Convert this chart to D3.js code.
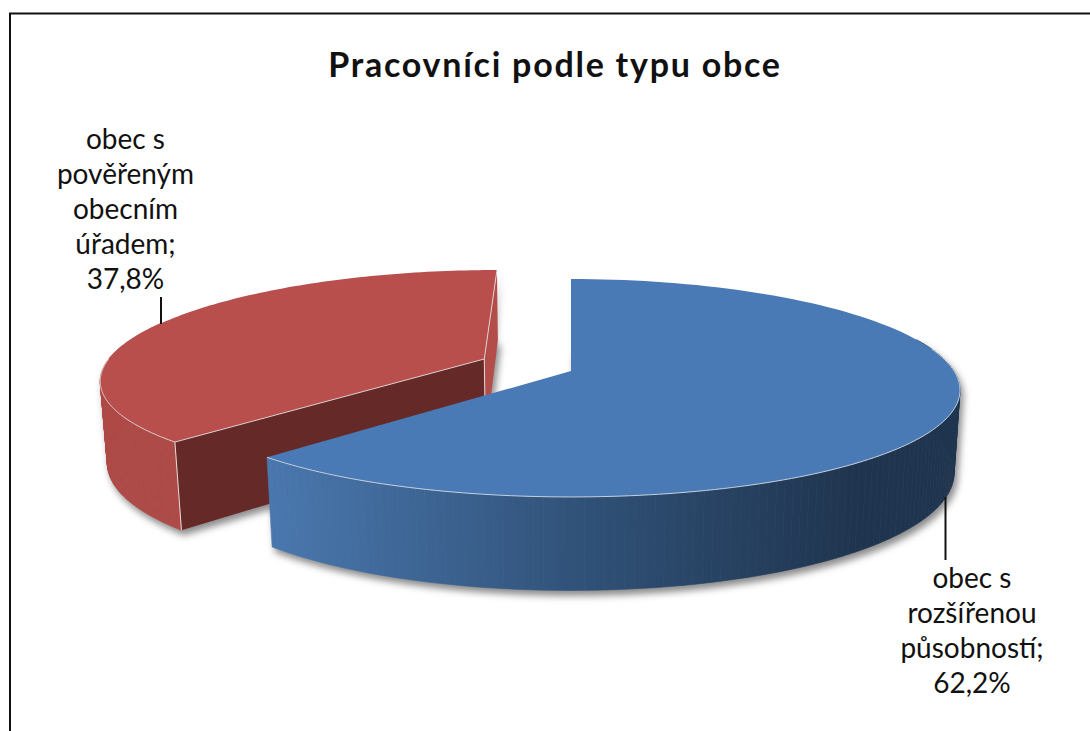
<!DOCTYPE html>
<html>
<head>
<meta charset="utf-8">
<script src="https://d3js.org/d3.v7.min.js"></script>
<style>
    html, body { margin: 0; padding: 0; background: #fff; overflow: hidden; }
    text { font-family: Lato, "Open Sans", sans-serif; fill: #111; text-anchor: middle; }
</style>
</head>
<body>
<div id="chart"></div>
<script>

// --- Daten ------------------------------------------------------------------ //

var chartTitle = 'Pracovníci podle typu obce';
var categories = ['obec s rozšířenou působností', 'obec s pověřeným obecním úřadem'];
var shares = [62.2, 37.8];
var labelLines = [
    ['obec s', 'rozšířenou', 'působností;', '62,2%'],
    ['obec s', 'pověřeným', 'obecním', 'úřadem;', '37,8%']
];

// --- Grundaufbau ------------------------------------------------------------ //

var width = 1090;
var height = 731;

var svg = d3.select('#chart').append('svg')
    .attr('width', width)
    .attr('height', height)
    .style('display', 'block');

var defs = svg.append('defs');

defs.append('filter')
    .attr('id', 'blur')
    .attr('x', '-10%').attr('y', '-10%')
    .attr('width', '120%').attr('height', '120%')
    .append('feGaussianBlur')
    .attr('stdDeviation', 3.5);

var blueRim = defs.append('linearGradient')
    .attr('id', 'blue-rim')
    .attr('gradientUnits', 'userSpaceOnUse')
    .attr('x1', 267).attr('y1', 0)
    .attr('x2', 860).attr('y2', 0);

blueRim.append('stop').attr('offset', 0).attr('stop-color', '#4a78af');
blueRim.append('stop').attr('offset', 0.55).attr('stop-color', '#2f5076');
blueRim.append('stop').attr('offset', 1).attr('stop-color', '#1f344e');

// --- 3D Projektion (u, v = Tortenebene, h = Tiefe) ---------------------------- //

var centerX = 571;
var centerY = 371;
var scaleU = 383;
var scaleV = 106.3;
var scaleH = 82.2;
var perspX = 0.175;
var perspV = 0.156;
var perspH = 0.015;

function project(u, v, h) {
    return [
        centerX + scaleU * u / (1 + perspX * v + perspH * h),
        centerY + (scaleH * h - scaleV * v) / (1 + perspV * v + perspH * h)
    ];
}

function rimPoint(angle, offset, h) {
    return project(offset.u + Math.sin(angle), offset.v + Math.cos(angle), h);
}

function arcPoints(a0, a1, offset, h) {
    var n = 120;
    return d3.range(n + 1).map(function(i) {
        return rimPoint(a0 + (a1 - a0) * i / n, offset, h);
    });
}

var line = d3.line();

function closedPath(points) {
    return line(points) + 'Z';
}

// Außenwand als einzelne Vierecke, sonst kreuzen sich Ober- und Unterkante
function wallQuads(a0, a1, offset) {
    var top = arcPoints(a0, a1, offset, 0);
    var bottom = arcPoints(a0, a1, offset, 1);
    return d3.range(top.length - 1).map(function(i) {
        return closedPath([top[i], top[i + 1], bottom[i + 1], bottom[i]]);
    });
}

function drawWall(parent, quads, paint) {
    parent.append('g')
        .selectAll('path')
        .data(quads)
        .join('path')
        .attr('d', function(d) { return d; })
        .attr('fill', paint)
        .attr('stroke', paint)
        .attr('stroke-width', 0.6);
}

// Winkel kommen aus d3.pie
var pie = d3.pie().sort(null).value(function(d) { return d; });
var slices = pie(shares);

var blue = slices[0];
var red = slices[1];
var noOffset = { u: 0, v: 0 };
var redOffset = { u: -0.231, v: 0.1149 };   // herausgezogenes Stück

var blueRimAngle = Math.PI * 0.4;
var redRimAngle = Math.PI * 1.62;

function topFace(slice, offset, h) {
    return [project(offset.u, offset.v, h)].concat(arcPoints(slice.startAngle, slice.endAngle, offset, h));
}

// --- Schatten ---------------------------------------------------------------- //

var shadow = svg.append('g')
    .attr('filter', 'url(#blur)')
    .attr('transform', 'translate(3,5)');

drawWall(shadow, wallQuads(blueRimAngle, blue.endAngle, noOffset), '#8c8c8c');
drawWall(shadow, wallQuads(red.startAngle, redRimAngle, redOffset), '#8c8c8c');

shadow.append('path').attr('fill', '#8c8c8c').attr('d', closedPath(topFace(blue, noOffset, 1)));
shadow.append('path').attr('fill', '#8c8c8c').attr('d', closedPath(topFace(red, redOffset, 1)));
shadow.append('path').attr('fill', '#8c8c8c').attr('d', closedPath([
    project(redOffset.u, redOffset.v, 0),
    project(redOffset.u, redOffset.v + 1, 0),
    project(redOffset.u, redOffset.v, 1)
]));
shadow.append('path').attr('fill', '#8c8c8c').attr('d', closedPath([
    project(0, 0, 0),
    project(0, 0.6, 0),
    project(0, 0, 1)
]));

// --- rotes Stück ------------------------------------------------------------- //

var edge = '#e3dcdc';

// schmale Wand an der Oberkante
svg.append('path')
    .attr('d', closedPath([
        project(redOffset.u, redOffset.v + 1, 0),
        project(redOffset.u, redOffset.v, 0),
        project(redOffset.u, redOffset.v, 1),
        project(redOffset.u, redOffset.v + 1, 1)
    ]))
    .attr('fill', '#b34d4a');

// dunkle Schnittfläche
svg.append('path')
    .attr('d', closedPath([
        project(redOffset.u, redOffset.v, 0),
        rimPoint(red.startAngle, redOffset, 0),
        rimPoint(red.startAngle, redOffset, 1),
        project(redOffset.u, redOffset.v, 1)
    ]))
    .attr('fill', '#652928');

drawWall(svg, wallQuads(red.startAngle, redRimAngle, redOffset), '#ae4a47');

svg.append('path')
    .attr('d', line([rimPoint(red.startAngle, redOffset, 0), rimPoint(red.startAngle, redOffset, 1)]))
    .attr('fill', 'none')
    .attr('stroke', edge)
    .attr('stroke-width', 1);

svg.append('path')
    .attr('d', line([project(redOffset.u, redOffset.v, 0), project(redOffset.u, redOffset.v, 1)]))
    .attr('fill', 'none')
    .attr('stroke', edge)
    .attr('stroke-width', 1);

svg.append('path')
    .attr('d', closedPath(topFace(red, redOffset, 0)))
    .attr('fill', '#b84f4c');

// helle Kante nur vorne, hinten läuft die Fläche ohne Linie aus
svg.append('path')
    .attr('d', line(
        arcPoints(Math.PI * 1.5, red.startAngle, redOffset, 0)
            .concat([project(redOffset.u, redOffset.v, 0), project(redOffset.u, redOffset.v + 1, 0)])
    ))
    .attr('fill', 'none')
    .attr('stroke', edge)
    .attr('stroke-width', 0.9);

// --- blaues Stück ------------------------------------------------------------ //

drawWall(svg, wallQuads(blueRimAngle, blue.endAngle, noOffset), 'url(#blue-rim)');

svg.append('path')
    .attr('d', closedPath(topFace(blue, noOffset, 0)))
    .attr('fill', '#4a7ab5');

svg.append('path')
    .attr('d', line(arcPoints(blueRimAngle + 0.1, blue.endAngle, noOffset, 0)))
    .attr('fill', 'none')
    .attr('stroke', '#c4d0de')
    .attr('stroke-width', 1);

// --- Beschriftung ------------------------------------------------------------ //

svg.append('text')
    .text(chartTitle)
    .attr('x', 555)
    .attr('y', 77)
    .style('font-size', '34px')
    .style('font-weight', 700)
    .style('letter-spacing', '1.75px');

function drawLabel(lines, x, firstBaseline) {
    svg.append('g').selectAll('text')
        .data(lines)
        .join('text')
        .text(function(d) { return d; })
        .attr('x', x)
        .attr('y', function(d, i) { return firstBaseline + i * 34.9; })
        .style('font-size', '28px');
}

drawLabel(labelLines[0], 972, 588);
drawLabel(labelLines[1], 125.5, 149);

svg.append('line')
    .attr('x1', 945.5).attr('x2', 945.5)
    .attr('y1', 497).attr('y2', 560)
    .attr('stroke', '#111')
    .attr('stroke-width', 2);

svg.append('line')
    .attr('x1', 161).attr('x2', 161)
    .attr('y1', 297).attr('y2', 324)
    .attr('stroke', '#111')
    .attr('stroke-width', 2);

// --- Rahmen ------------------------------------------------------------------ //

svg.append('path')
    .attr('d', 'M10,731V13.5H1090')
    .attr('fill', 'none')
    .attr('stroke', '#111')
    .attr('stroke-width', 2);

</script>
</body>
</html>
